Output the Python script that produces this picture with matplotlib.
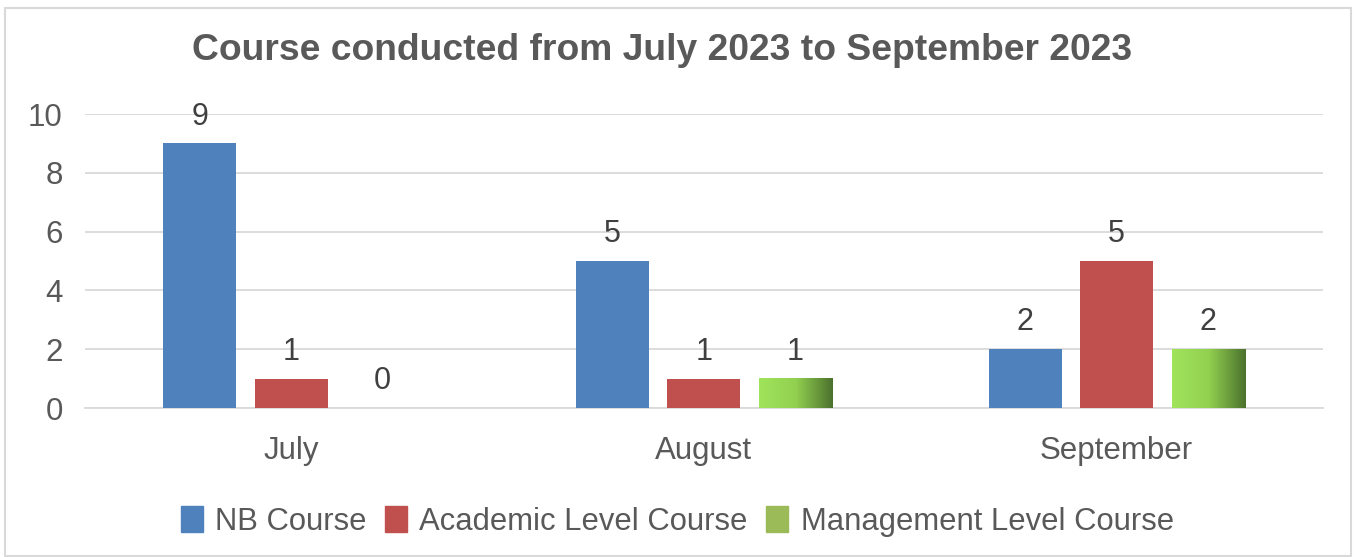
import numpy as np
import matplotlib.pyplot as plt
from matplotlib.colors import LinearSegmentedColormap
from matplotlib.patches import Rectangle, Patch

plt.rcParams['font.family'] = ['Liberation Sans', 'DejaVu Sans']

months = ['July', 'August', 'September']
series = ['NB Course', 'Academic Level Course', 'Management Level Course']
nb = [9, 5, 2]
academic = [1, 1, 5]
management = [0, 1, 2]

colors = ['#4F81BD', '#C0504D', '#9BBB59']
grad = LinearSegmentedColormap.from_list('g', ['#A0E45B', '#92D050', '#4B712D'])
txt = '#595959'

fig = plt.figure(figsize=(13.59, 5.57), dpi=100)
ax = fig.add_axes([0.0625, 0.2675, 0.911, 0.5278])

x = np.arange(len(months))
w = 0.177
step = 0.2217

ax.bar(x - step, nb, w, color=colors[0], zorder=3)
ax.bar(x, academic, w, color=colors[1], zorder=3)
# gradient bars for management level course
for xi, v in zip(x + step, management):
    if v > 0:
        ax.imshow(np.linspace(0, 1, 256).reshape(1, -1), cmap=grad, aspect='auto',
                  extent=(xi - w / 2, xi + w / 2, 0, v), zorder=3)

for off, vals in [(-step, nb), (0, academic), (step, management)]:
    for xi, v in zip(x + off, vals):
        ax.text(xi, v + 0.4, str(v), ha='center', va='bottom', fontsize=22, color='#404040')

ax.set_xlim(-0.5, 2.5)
ax.set_ylim(0, 10)
ax.set_yticks(range(0, 11, 2))
ax.set_xticks(x)
ax.set_xticklabels(months)
ax.tick_params(axis='both', length=0, labelsize=22.5, labelcolor=txt)
ax.tick_params(axis='x', pad=20)
ax.tick_params(axis='y', pad=16)
ax.grid(axis='y', color='#D9D9D9', linewidth=1.3, zorder=0)
for s in ['top', 'right', 'left']:
    ax.spines[s].set_visible(False)
ax.spines['bottom'].set_color('#D9D9D9')
ax.spines['bottom'].set_linewidth(1.3)

fig.text(0.487, 0.909, 'Course conducted from July 2023 to September 2023', ha='center', va='center',
         fontsize=26.8, fontweight='bold', color=txt)

handles = [Patch(color=c) for c in colors]
fig.legend(handles, series, loc='center', bbox_to_anchor=(0.4985, 0.064), ncol=3, frameon=False,
           fontsize=22.3, labelcolor=txt, handlelength=0.7, handleheight=0.9, handletextpad=0.4,
           columnspacing=0.6)

fig.patches.append(Rectangle((5 / 1359, 0.002), 1346 / 1359, 1 - 8 / 557 - 0.002, transform=fig.transFigure,
                             fill=False, edgecolor='#D9D9D9', linewidth=1.5))

fig.savefig('out.png', dpi=100)
